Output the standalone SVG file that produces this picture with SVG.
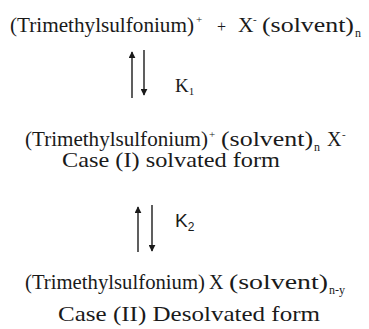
<svg xmlns="http://www.w3.org/2000/svg" width="369" height="329" viewBox="0 0 369 329">
<style>
text{font-family:"Liberation Serif","Times New Roman",serif;fill:#1a1a1a}
.sup{font-size:11px}
.sub{font-size:12px}
.ar{stroke:#1a1a1a;stroke-width:1.4;fill:none}
</style>
<defs>
<marker id="ah" viewBox="0 0 10 10" refX="9" refY="5" markerWidth="5" markerHeight="5" orient="auto" markerUnits="strokeWidth">
<path d="M0,0 L10,5 L0,10 z" fill="#1a1a1a"/>
</marker>
</defs>
<rect width="369" height="329" fill="#fff"/>
<g id="reactants">
<text x="10" y="32" font-size="21.5" textLength="184" lengthAdjust="spacingAndGlyphs">(Trimethylsulfonium)</text>
<text class="sup" x="196" y="23">+</text>
<text x="217" y="32" font-size="16">+</text>
<text x="238" y="32" font-size="21.5">X</text>
<text class="sup" x="253" y="23">-</text>
<text x="262" y="32" font-size="21.5" textLength="92" lengthAdjust="spacingAndGlyphs">(solvent)</text>
<text class="sub" x="355" y="37">n</text>
</g>
<g id="solvated">
<text x="25" y="146" font-size="20" textLength="183" lengthAdjust="spacingAndGlyphs">(Trimethylsulfonium)</text>
<text class="sup" x="209" y="138">+</text>
<text x="221" y="146" font-size="20" textLength="92" lengthAdjust="spacingAndGlyphs">(solvent)</text>
<text class="sub" x="314" y="151">n</text>
<text x="327" y="146" font-size="20">X</text>
<text class="sup" x="342" y="138">-</text>
<text x="62" y="167" font-size="21" textLength="218" lengthAdjust="spacingAndGlyphs">Case (I) solvated form</text>
</g>
<g id="desolvated">
<text x="25" y="289" font-size="20" textLength="180" lengthAdjust="spacingAndGlyphs">(Trimethylsulfonium)</text>
<text x="209" y="289" font-size="20">X</text>
<text x="229" y="289" font-size="20" textLength="99" lengthAdjust="spacingAndGlyphs">(solvent)</text>
<text class="sub" x="329" y="294">n-y</text>
<text x="58" y="321" font-size="22" textLength="262" lengthAdjust="spacingAndGlyphs">Case (II) Desolvated form</text>
</g>
<g id="connectors">
<line class="ar" x1="132" y1="98" x2="132" y2="52" marker-end="url(#ah)"/>
<line class="ar" x1="144" y1="50" x2="144" y2="95" marker-end="url(#ah)" stroke="#555"/>
<line class="ar" x1="138" y1="252" x2="138" y2="207" marker-end="url(#ah)"/>
<line class="ar" x1="152" y1="205" x2="152" y2="251" marker-end="url(#ah)"/>
<text x="175" y="92" font-size="19">K<tspan font-size="11" dy="3">1</tspan></text>
<text x="175" y="227" font-size="19" style="font-family:'Liberation Sans',Arial,sans-serif">K<tspan font-size="12" dy="4">2</tspan></text>
</g>
</svg>
